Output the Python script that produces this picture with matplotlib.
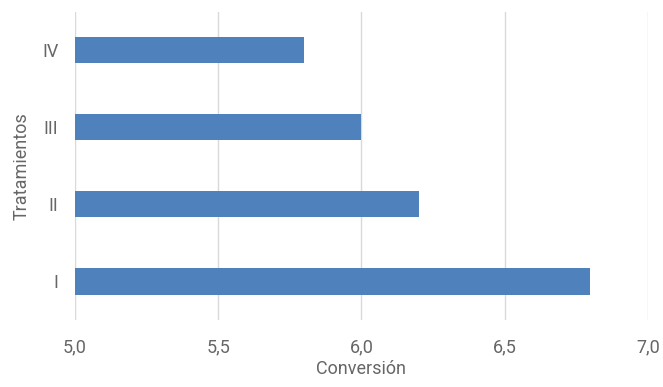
import matplotlib.pyplot as plt
from matplotlib.ticker import FuncFormatter

# data
tratamientos = ['I', 'II', 'III', 'IV']
conversion = [6.8, 6.2, 6.0, 5.8]
x_ticks = [5.0, 5.5, 6.0, 6.5, 7.0]

plt.rcParams['font.family'] = ['Roboto', 'DejaVu Sans']

fig = plt.figure(figsize=(6.63, 3.87), dpi=100)
ax = fig.add_axes([0.113, 0.173, 0.864, 0.797])

pos = range(len(tratamientos))
ax.barh(pos, [v - 5.0 for v in conversion], left=5.0, height=0.34,
        color='#4F81BD', zorder=3)

ax.set_xlim(5.0, 7.0)
ax.set_ylim(-0.5, len(tratamientos) - 0.5)
ax.set_xticks(x_ticks)
ax.xaxis.set_major_formatter(FuncFormatter(lambda v, p: ('%.1f' % v).replace('.', ',')))
ax.set_yticks(list(pos))
ax.set_yticklabels(tratamientos)

# grid and spines
ax.grid(True, axis='x', color='#D9D9D9', linewidth=1.0, zorder=0)
for s in ax.spines.values():
    s.set_visible(False)
ax.tick_params(axis='both', length=0, labelsize=13, labelcolor='#666666')
ax.tick_params(axis='x', pad=13)
ax.tick_params(axis='y', pad=12)

ax.set_xlabel('Conversión', fontsize=13, color='#666666', labelpad=3)
ax.set_ylabel('Tratamientos', fontsize=13, color='#666666', labelpad=8)

fig.savefig('out.png', dpi=100)
